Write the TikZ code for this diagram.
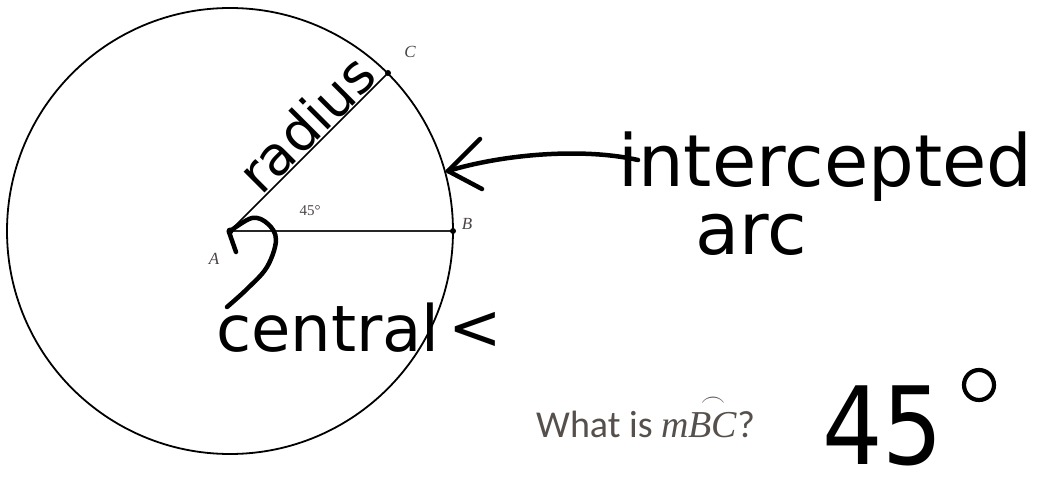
\documentclass[tikz,border=0pt]{standalone}
\usepackage{amsmath}
\usepackage{fontspec}
\newfontfamily\handfont{DejaVu Sans}
\newfontfamily\calibrifont{Carlito}
\newfontfamily\labelfont{Liberation Serif}
\definecolor{labelgray}{HTML}{4A4444}
\definecolor{qgray}{HTML}{55504C}
\begin{document}
\begin{tikzpicture}[x=1pt,y=1pt,
  pen/.style={line width=4.5pt, line cap=round, line join=round},
  thin line/.style={line width=1.8pt},
  hand/.style={font=\handfont\fontsize{#1}{#1}\selectfont, inner sep=0pt},
  ptlabel/.style={font=\labelfont\itshape\fontsize{17}{17}\selectfont, text=labelgray, inner sep=0pt},
  dot/.style={circle, fill=black, inner sep=0pt, minimum size=7pt}
]
\useasboundingbox (0,0) rectangle (1057,477);
% points
\coordinate (A) at (230,246);
\coordinate (B) at (453,246);
\coordinate (C) at (388,404);
% circle and segments
\draw[thin line] (A) circle (223);
\draw[line width=1.6pt] (A) -- (C);
\draw[line width=2.2pt, black!85] (A) -- (B);
\node[dot] (Adot) at (A) {};
\node[dot, minimum size=6pt] (Bdot) at (B) {};
\node[dot, minimum size=6pt] (Cdot) at (C) {};
% labels
\node[ptlabel] (Alab) at (214,218) {A};
\node[ptlabel] (Blab) at (467,253) {B};
\node[ptlabel] (Clab) at (410,425) {C};
\node[ptlabel, font=\labelfont\fontsize{15}{15}\selectfont] (deg) at (310,266) {45°};
% radius text
\path (A) -- (C) node[pos=0.58, sloped, above=1pt, hand=54] (radius) {radius};
% intercepted arc
\node[hand=72, anchor=base west] (inter) at (618,290) {intercepted};
\node[hand=72, anchor=base west] (arc) at (695,222) {arc};
\coordinate (arrowtip) at (448,306);
\coordinate (arrowstart) at (638,317);
\draw[pen] (arrowstart) .. controls (580,330) and (500,322) .. (arrowtip);
\draw[pen] (480,338) -- (arrowtip) -- (482,288);
% central <
\node[hand=64, anchor=base west] (central) at (216,126) {central};
\node[hand=64, anchor=base west] (lt) at (448,128) {<};
% angle arrow
\draw[pen] plot[smooth, tension=0.6] coordinates {(227,170) (247,188) (267,210) (276,237) (268,253) (252,259) (229,245)};
\draw[pen] (229,245) -- (236,225);
% question
\node[anchor=base west, inner sep=0pt, text=qgray, font=\calibrifont\fontsize{38}{38}\selectfont] (question) at (536,40) {What is {\labelfont\itshape m}$\overset{\frown}{\text{\labelfont\itshape BC}}$?};
% answer
\node[hand=108, anchor=base west, xscale=0.88, text depth=0pt] (answer) at (822,13) {45};
\node[circle, draw, line width=4.2pt, minimum size=30pt, inner sep=0pt] (degcirc) at (979,92) {};
\end{tikzpicture}
\end{document}
